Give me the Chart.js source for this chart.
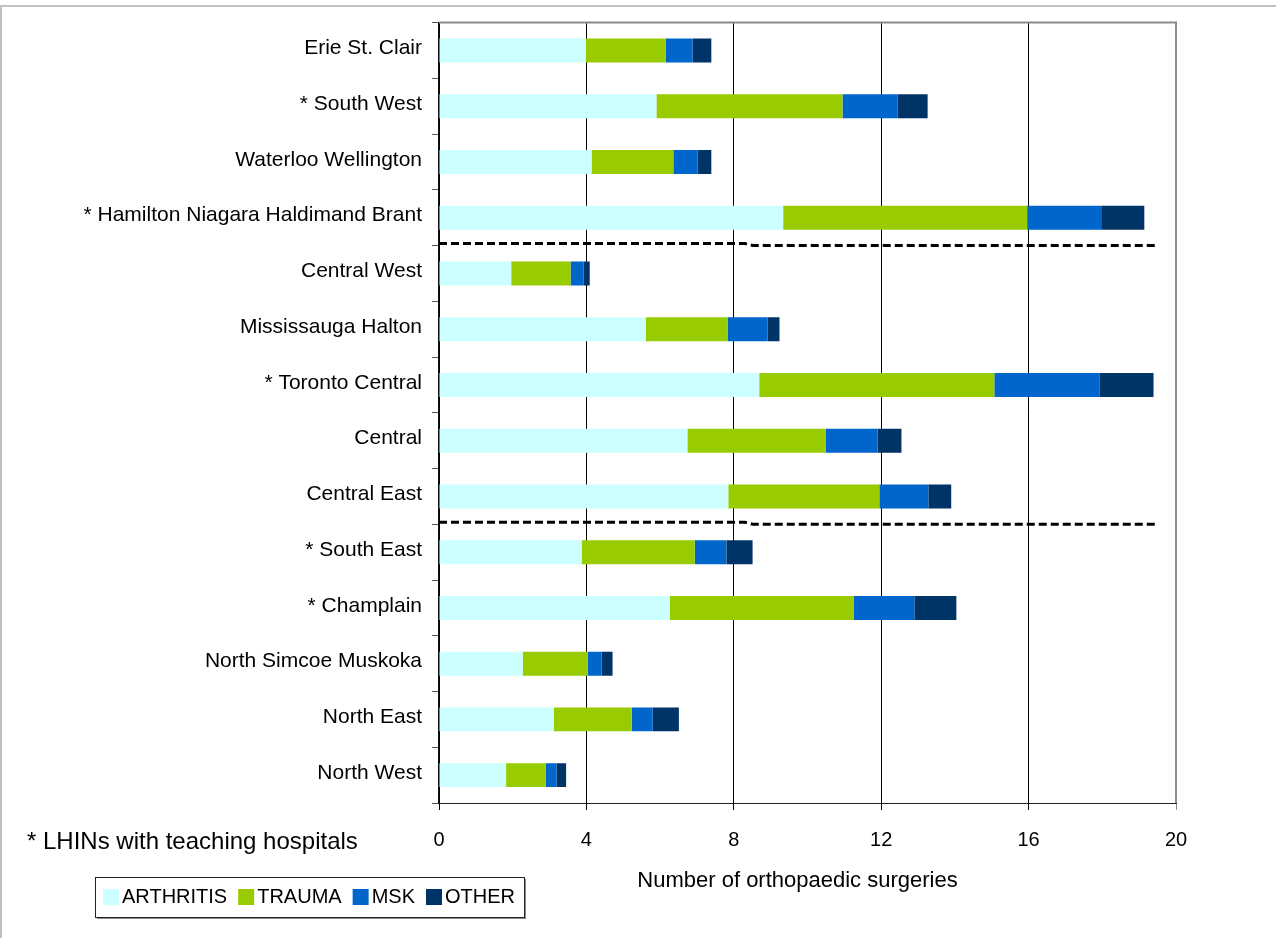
<!DOCTYPE html>
<html>
<head>
<meta charset="utf-8">
<script src="https://cdn.jsdelivr.net/npm/chart.js@4.4.1/dist/chart.umd.min.js"></script>
<style>
  html, body { margin: 0; padding: 0; background: #fff; }
  canvas { display: block; }
</style>
</head>
<body>
<canvas id="surgeryChart" width="1276" height="938"></canvas>
<script>
// chart data
const regions = [
    'Erie St. Clair', '* South West', 'Waterloo Wellington', '* Hamilton Niagara Haldimand Brant',
    'Central West', 'Mississauga Halton', '* Toronto Central', 'Central', 'Central East',
    '* South East', '* Champlain', 'North Simcoe Muskoka', 'North East', 'North West'
];
const arthritis = [3.98, 5.90, 4.14, 9.34, 1.96, 5.61, 8.69, 6.74, 7.85, 3.87, 6.26, 2.27, 3.12, 1.82];
const trauma    = [2.17, 5.05, 2.22, 6.62, 1.61, 2.22, 6.38, 3.75, 4.10, 3.07, 4.99, 1.77, 2.11, 1.08];
const msk       = [0.73, 1.49, 0.66, 2.01, 0.35, 1.09, 2.85, 1.41, 1.33, 0.86, 1.65, 0.37, 0.57, 0.29];
const other     = [0.51, 0.82, 0.37, 1.17, 0.17, 0.32, 1.47, 0.65, 0.62, 0.71, 1.14, 0.30, 0.71, 0.26];
const xTicks = [0, 4, 8, 12, 16, 20];
// dashed separators are drawn after these category indexes
const dividerAfter = [3, 8];
const dividerEnd = 19.5;
const footNote = '* LHINs with teaching hospitals';
const axisTitle = 'Number of orthopaedic surgeries';

const FONT = "'Liberation Sans', Arial, sans-serif";

// frame, borders, separators, axis title, foot note and boxed legend
const extras = {
    id: 'extras',
    beforeDraw(chart) {
        const ctx = chart.ctx;
        ctx.save();
        ctx.fillStyle = '#fff';
        ctx.fillRect(0, 0, chart.width, chart.height);
        ctx.fillStyle = '#c0c0c0';
        ctx.fillRect(0, 5, chart.width, 2);
        ctx.fillRect(0, 5, 2, chart.height - 5);
        ctx.restore();
    },
    afterDatasetsDraw(chart) {
        const ctx = chart.ctx;
        const x = chart.scales.x, y = chart.scales.y;
        const a = chart.chartArea;
        ctx.save();
        // top and right border in grey
        ctx.strokeStyle = '#8c8c8c';
        ctx.lineWidth = 2;
        ctx.beginPath();
        ctx.moveTo(a.left, a.top);
        ctx.lineTo(a.right, a.top);
        ctx.lineTo(a.right, a.bottom);
        ctx.stroke();
        // dashed separators
        ctx.strokeStyle = '#000';
        ctx.lineWidth = 3;
        ctx.setLineDash([8, 4]);
        dividerAfter.forEach(i => {
            const yy = (y.getPixelForValue(i) + y.getPixelForValue(i + 1)) / 2 - 1;
            const xk = x.getPixelForValue(8.3);
            ctx.beginPath();
            ctx.moveTo(x.getPixelForValue(0), yy - 1);
            ctx.lineTo(xk, yy - 1);
            ctx.lineTo(xk + 8, yy + 1);
            ctx.lineTo(x.getPixelForValue(dividerEnd), yy + 1);
            ctx.stroke();
        });
        ctx.restore();
    },
    afterDraw(chart) {
        const ctx = chart.ctx;
        const a = chart.chartArea;
        ctx.save();
        ctx.fillStyle = '#000';
        ctx.textBaseline = 'middle';

        // axis title, sitting a little left of the plot centre
        ctx.font = '22px ' + FONT;
        ctx.textAlign = 'center';
        ctx.fillText(axisTitle, (a.left + a.right) / 2 - 10, 881);

        ctx.textAlign = 'left';
        ctx.font = '24px ' + FONT;
        ctx.fillText(footNote, 27, 842);

        // legend box
        const bx = 95, by = 877, bw = 429, bh = 40;
        ctx.fillStyle = '#8c8c8c';
        ctx.fillRect(bx + 2, by + bh, bw, 2);
        ctx.fillRect(bx + bw, by + 2, 2, bh);
        ctx.strokeStyle = '#222';
        ctx.lineWidth = 1;
        ctx.strokeRect(bx + 0.5, by + 0.5, bw, bh);

        ctx.font = '20px ' + FONT;
        let cx = 103;
        chart.data.datasets.forEach(ds => {
            ctx.fillStyle = ds.backgroundColor;
            ctx.fillRect(cx, 889, 16, 16);
            cx += 19;
            ctx.fillStyle = '#000';
            ctx.fillText(ds.label, cx, 897);
            cx += ctx.measureText(ds.label).width + 11;
        });
        ctx.restore();
    }
};

new Chart(document.getElementById('surgeryChart'), {
    type: 'bar',
    data: {
        labels: regions,
        datasets: [
            { label: 'ARTHRITIS', data: arthritis, backgroundColor: '#ccffff' },
            { label: 'TRAUMA', data: trauma, backgroundColor: '#99cc00' },
            { label: 'MSK', data: msk, backgroundColor: '#0066cc' },
            { label: 'OTHER', data: other, backgroundColor: '#003366' }
        ]
    },
    options: {
        indexAxis: 'y',
        responsive: false,
        animation: false,
        layout: { padding: { left: 0, top: 18, right: 100, bottom: 0 } },
        datasets: { bar: { barPercentage: 0.43, categoryPercentage: 1, borderWidth: 0 } },
        plugins: { legend: { display: false }, tooltip: { enabled: false } },
        scales: {
            x: {
                stacked: true,
                min: 0,
                max: 20,
                afterBuildTicks: s => { s.ticks = xTicks.map(v => ({ value: v })); },
                afterFit: s => { s.height = 135; },
                grid: {
                    color: c => (c.tick && c.tick.value === 20 ? '#8c8c8c' : '#000'),
                    lineWidth: 1,
                    tickLength: 7
                },
                border: { color: '#222', width: 1 },
                ticks: { color: '#000', font: { family: FONT, size: 20 }, padding: 18 }
            },
            y: {
                stacked: true,
                afterFit: s => { s.width = 439; },
                grid: { drawOnChartArea: false, color: '#555', tickLength: 7 },
                border: { color: '#111', width: 1.5 },
                ticks: { color: '#000', font: { family: FONT, size: 21 }, padding: 10, labelOffset: -2 }
            }
        }
    },
    plugins: [extras]
});
</script>
</body>
</html>
